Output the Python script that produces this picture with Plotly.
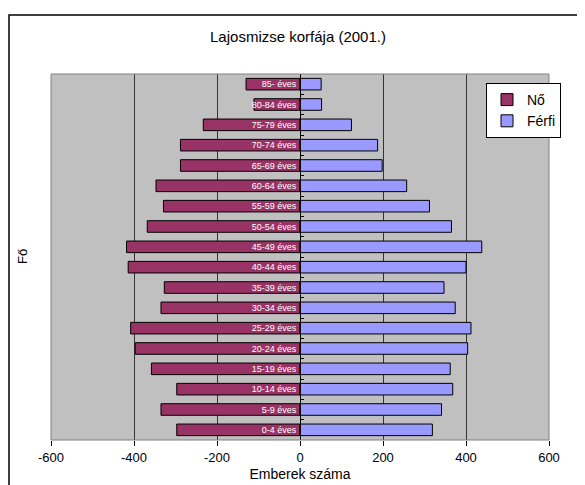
import plotly.graph_objects as go

categories = ["0-4 éves", "5-9 éves", "10-14 éves", "15-19 éves", "20-24 éves",
              "25-29 éves", "30-34 éves", "35-39 éves", "40-44 éves", "45-49 éves",
              "50-54 éves", "55-59 éves", "60-64 éves", "65-69 éves", "70-74 éves",
              "75-79 éves", "80-84 éves", "85- éves"]
no_values = [-297, -335, -297, -358, -397, -408, -335, -327, -414, -418,
             -368, -329, -347, -288, -288, -233, -111, -130]
ferfi_values = [319, 341, 368, 362, 404, 412, 374, 347, 400, 438,
                365, 312, 257, 198, 187, 124, 52, 51]
x_ticks = [-600, -400, -200, 0, 200, 400, 600]

FONT = "Liberation Sans, Arial, sans-serif"

# page offset (browser body margin) is 8px
OFF = 8
L, R, T, B = 51 - OFF, 36, 74 - OFF, 45
W, H = 585 - OFF, 485 - OFF
PW = W - L - R
PH = H - T - B


def px(xp):
    return (xp - OFF - L) / PW


def py(yp):
    return (H - B - (yp - OFF)) / PH


fig = go.Figure()
fig.add_trace(go.Bar(y=categories, x=no_values, orientation="h", name="Nő",
                     marker=dict(color="#993366", line=dict(color="black", width=1))))
fig.add_trace(go.Bar(y=categories, x=ferfi_values, orientation="h", name="Férfi",
                     marker=dict(color="#9999FF", line=dict(color="black", width=1))))

fig.update_layout(
    width=W, height=H,
    margin=dict(l=L, r=R, t=T, b=B, autoexpand=False),
    paper_bgcolor="white", plot_bgcolor="#C0C0C0",
    barmode="overlay", bargap=0.43,
    font=dict(family=FONT, size=13, color="black"),
    title=dict(text="Lajosmizse korfája (2001.)", x=px(298), xanchor="center", xref="paper",
               y=1 - (37 - OFF) / H, yanchor="middle", font=dict(size=15)),
    legend=dict(x=px(486), y=py(83), xanchor="left", yanchor="top",
                bgcolor="white", bordercolor="black", borderwidth=1,
                font=dict(size=14), itemwidth=30),
    showlegend=True,
)

fig.update_xaxes(range=[-600, 600], tickvals=x_ticks, ticktext=[str(v) for v in x_ticks],
                 showgrid=True, gridcolor="#333333", gridwidth=1, zeroline=False,
                 ticks="outside", ticklen=5, tickcolor="black", automargin=False,
                 title=dict(text="Emberek száma", standoff=5, font=dict(size=14)),
                 tickfont=dict(size=13), showline=False)

fig.update_yaxes(type="category", categoryorder="array", categoryarray=categories,
                 anchor="free", position=0.5, showline=True, linecolor="black", linewidth=1,
                 ticks="inside", ticklen=3, tickcolor="black", tickson="boundaries",
                 tickfont=dict(size=9, color="white"), showgrid=False, zeroline=False,
                 ticklabelstandoff=2, automargin=False)

fig.add_shape(type="rect", xref="paper", yref="paper", x0=0, x1=1, y0=0, y1=1,
              line=dict(color="#808080", width=1), fillcolor="rgba(0,0,0,0)", layer="above")
# outer chart border
fig.add_shape(type="rect", xref="paper", yref="paper",
              x0=px(9), x1=px(580), y0=py(495), y1=py(15),
              line=dict(color="black", width=1.5), fillcolor="rgba(0,0,0,0)")
fig.add_annotation(text="Fő", xref="paper", yref="paper",
                   x=px(22), y=py(257), textangle=-90,
                   showarrow=False, font=dict(size=13), xanchor="center", yanchor="middle")

fig.write_html("out.html")
